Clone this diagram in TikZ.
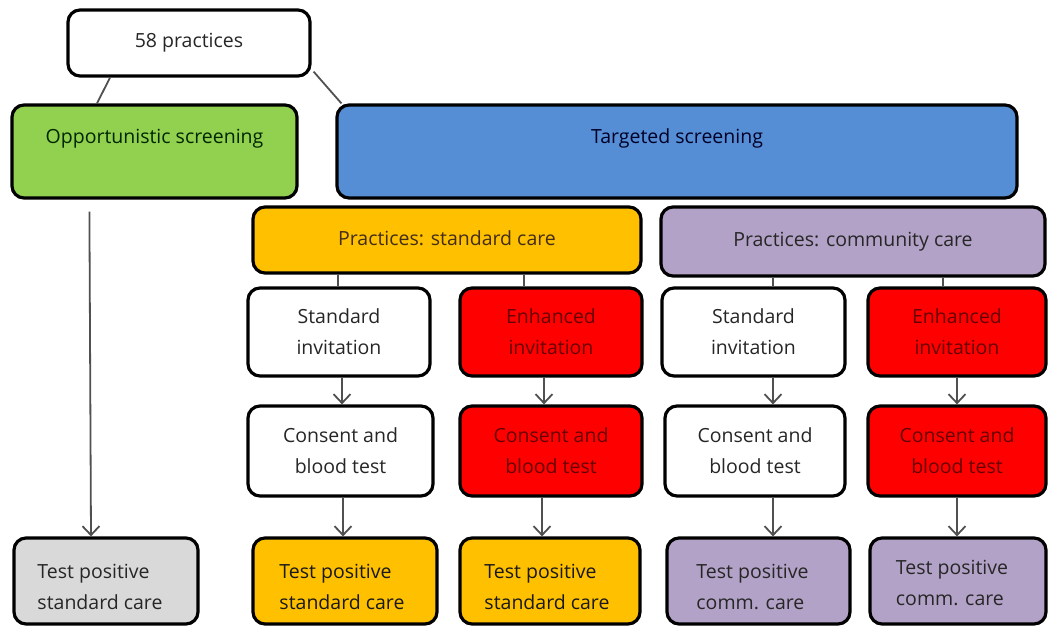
\documentclass[tikz,border=0pt]{standalone}
\usepackage{fontspec}
\setmainfont{Open Sans}
\usetikzlibrary{fit,arrows.meta,calc}
\definecolor{cgreen}{HTML}{92D050}
\definecolor{cblue}{HTML}{558ED5}
\definecolor{cyellow}{HTML}{FFC000}
\definecolor{clilac}{HTML}{B3A2C7}
\definecolor{cred}{HTML}{FF0000}
\definecolor{cgrey}{HTML}{D9D9D9}
\definecolor{lineg}{HTML}{505050}
\begin{document}
\begin{tikzpicture}[x=1pt,y=-1pt,
  box/.style={draw=black,line width=3.2pt,rounded corners=12pt,inner sep=0pt,rectangle},
  txt/.style={font=\fontsize{19.5}{31}\selectfont,align=center},
  lt/.style={txt,align=left},
  link/.style={draw=lineg,line width=1.8pt},
  arr/.style={link,-{Straight Barb[length=9pt,width=17pt]}}]
\useasboundingbox (0,0) rectangle (1049,628);

% top level
\node[box,fill=white,fit={(68,10)(310,76)},
  label={[txt,text=black!85]center:58 practices}] (top) {};
\node[box,fill=cgreen,fit={(12,105)(297,198)},
  label={[txt,yshift=13pt,text=green!15!black]center:Opportunistic screening}] (opp) {};
\node[box,fill=cblue,fit={(337,105)(1017,198)},
  label={[txt,yshift=13pt,text=blue!15!black]center:Targeted screening}] (tgt) {};

% practice groups
\node[box,fill=cyellow,fit={(253,207)(641,273)},
  label={[txt,yshift=2pt,text=brown!35!black]center:Practices: standard care}] (psc) {};
\node[box,fill=clilac,fit={(661,207)(1045,276)},
  label={[txt,text=black!85]center:Practices: community care}] (pcc) {};

% invitations
\node[box,fill=white,fit={(248,288)(430,376)},
  label={[txt,text=black!85]center:Standard\\invitation}] (si1) {};
\node[box,fill=cred,fit={(460,288)(642,376)},
  label={[txt,text=red!40!black]center:Enhanced\\invitation}] (ei1) {};
\node[box,fill=white,fit={(662,288)(845,376)},
  label={[txt,text=black!85]center:Standard\\invitation}] (si2) {};
\node[box,fill=cred,fit={(868,288)(1046,376)},
  label={[txt,text=red!40!black]center:Enhanced\\invitation}] (ei2) {};

% consent and blood test
\node[box,fill=white,fit={(248,406)(433,496)},
  label={[txt,text=black!85]center:Consent and\\blood test}] (cb1) {};
\node[box,fill=cred,fit={(460,406)(642,496)},
  label={[txt,text=red!40!black]center:Consent and\\blood test}] (cb2) {};
\node[box,fill=white,fit={(665,406)(845,496)},
  label={[txt,text=black!85]center:Consent and\\blood test}] (cb3) {};
\node[box,fill=cred,fit={(868,406)(1046,496)},
  label={[txt,text=red!40!black]center:Consent and\\blood test}] (cb4) {};

% outcomes
\node[box,fill=cgrey,fit={(14,538)(198,624)},
  label={[lt,xshift=-6pt,yshift=-6pt,text=black!85]center:Test positive\\standard care}] (tp0) {};
\node[box,fill=cyellow,fit={(253,538)(437,624)},
  label={[lt,xshift=-3pt,yshift=-6pt,text=black!90]center:Test positive\\standard care}] (tp1) {};
\node[box,fill=cyellow,fit={(460,538)(640,624)},
  label={[lt,xshift=-3pt,yshift=-6pt,text=black!90]center:Test positive\\standard care}] (tp2) {};
\node[box,fill=clilac,fit={(667,538)(850,624)},
  label={[lt,xshift=-6pt,yshift=-6pt,text=black!85]center:Test positive\\comm. care}] (tp3) {};
\node[box,fill=clilac,fit={(870,538)(1046,624)},
  label={[lt,xshift=-6pt,yshift=-2pt,text=black!85]center:Test positive\\comm. care}] (tp4) {};

% connectors
\draw[link] (110,0 |- top.south) -- (97,0 |- opp.north);
\draw[link] ($(top.south east)+(2,-6)$) -- ($(tgt.north west)+(6,0)$);
\draw[link] (338,0 |- psc.south) -- (338,0 |- si1.north);
\draw[link] (524,0 |- psc.south) -- (524,0 |- ei1.north);
\draw[link] (773,0 |- pcc.south) -- (773,0 |- si2.north);
\draw[link] (943,0 |- pcc.south) -- (943,0 |- ei2.north);

\coordinate (oppfoot) at ($(opp.south west)+(79,12)$);
\draw[arr] (oppfoot) -- (91,0 |- tp0.north);
\draw[arr] (342,0 |- si1.south) -- (342,0 |- cb1.north);
\draw[arr] (544,0 |- ei1.south) -- (544,0 |- cb2.north);
\draw[arr] (773,0 |- si2.south) -- (773,0 |- cb3.north);
\draw[arr] (957,0 |- ei2.south) -- (957,0 |- cb4.north);
\draw[arr] (343,0 |- cb1.south) -- (343,0 |- tp1.north);
\draw[arr] (542,0 |- cb2.south) -- (542,0 |- tp2.north);
\draw[arr] (773,0 |- cb3.south) -- (773,0 |- tp3.north);
\draw[arr] (957,0 |- cb4.south) -- (957,0 |- tp4.north);
\end{tikzpicture}
\end{document}
